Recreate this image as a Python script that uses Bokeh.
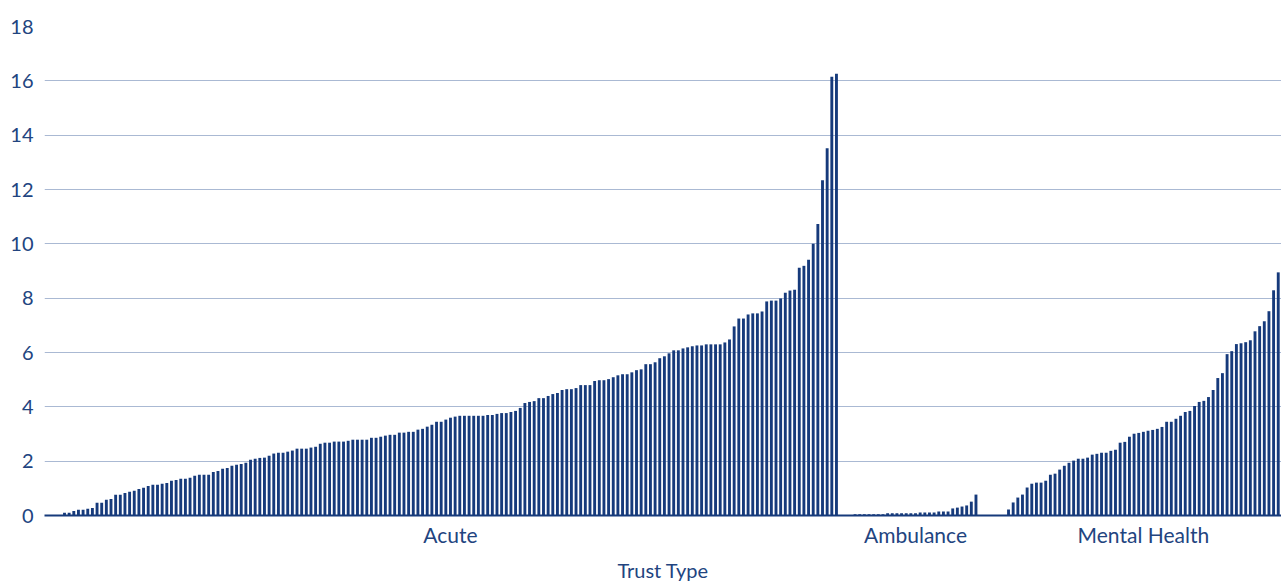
from bokeh.plotting import figure
from bokeh.models import Range1d, FixedTicker, ColumnDataSource
from bokeh.embed import file_html
from bokeh.resources import INLINE

# ---- data ----
categories = ["Acute", "Ambulance", "Mental Health"]

acute = [
    0.10, 0.10, 0.17, 0.21, 0.21, 0.25, 0.28, 0.47, 0.47, 0.58, 0.61, 0.76, 0.76, 0.83, 0.87,
    0.91, 0.98, 1.02, 1.09, 1.13, 1.13, 1.17, 1.20, 1.28, 1.31, 1.35, 1.35, 1.39, 1.46, 1.50,
    1.50, 1.50, 1.60, 1.64, 1.72, 1.75, 1.83, 1.87, 1.90, 1.94, 2.05, 2.09, 2.12,
    2.13, 2.20, 2.28, 2.31, 2.31, 2.35, 2.39, 2.46, 2.46, 2.46, 2.50, 2.53, 2.64, 2.68, 2.68,
    2.72, 2.72, 2.72, 2.75, 2.79, 2.79, 2.79, 2.79, 2.86, 2.86, 2.90, 2.94, 2.97, 2.97, 3.05,
    3.05, 3.08, 3.08, 3.16, 3.19, 3.27, 3.34, 3.45, 3.45, 3.53, 3.60, 3.64, 3.67,
    3.67, 3.67, 3.67, 3.67, 3.67, 3.70, 3.70, 3.74, 3.77, 3.77, 3.81, 3.85, 3.96, 4.14, 4.18,
    4.21, 4.32, 4.32, 4.40, 4.47, 4.51, 4.62, 4.65, 4.65, 4.69, 4.80, 4.80, 4.80, 4.95, 4.98,
    4.98, 5.02, 5.09, 5.16, 5.20, 5.20, 5.27, 5.35, 5.38, 5.57, 5.57, 5.64, 5.79,
    5.86, 5.97, 6.08, 6.08, 6.15, 6.19, 6.23, 6.26, 6.26, 6.30, 6.30, 6.30, 6.30, 6.37, 6.48,
    6.96, 7.25, 7.25, 7.40, 7.44, 7.44, 7.51, 7.88, 7.91, 7.91, 7.99, 8.20, 8.28, 8.31, 9.12,
    9.19, 9.41, 10.00, 10.73, 12.34, 13.52, 16.15, 16.26,
]

ambulance = [
    0.05, 0.05, 0.05, 0.05, 0.05, 0.05, 0.05,
    0.08, 0.08, 0.08, 0.08, 0.08, 0.08, 0.08,
    0.11, 0.11, 0.11, 0.11, 0.15, 0.15, 0.15,
    0.26, 0.29, 0.33, 0.37, 0.51, 0.77,
]

mental_health = [
    0.22, 0.48, 0.66, 0.77, 1.03, 1.17, 1.21, 1.21, 1.28, 1.50, 1.54, 1.69, 1.83, 1.94, 2.02,
    2.09, 2.09, 2.13, 2.24, 2.27, 2.31, 2.31, 2.38, 2.42, 2.68, 2.71, 2.90, 3.01, 3.04, 3.08,
    3.12, 3.15, 3.19, 3.26, 3.45, 3.45, 3.56, 3.67, 3.81, 3.85, 4.03, 4.18, 4.22, 4.36, 4.62,
    5.06, 5.24, 5.94, 6.05, 6.31, 6.34, 6.38, 6.45, 6.78, 6.97, 7.15, 7.52, 8.29, 8.95,
]

y_ticks = [0, 2, 4, 6, 8, 10, 12, 14, 16, 18]
x_title = "Trust Type"

# ---- layout constants ----
GROUP_GAPS = [0, 3, 6]          # empty slots before each group
BAR_COLOR = "#163a7b"
TEXT_COLOR = "#22447f"
GRID_COLOR = "#aab9d3"
FONT = "Lato"

xs, tops = [], []
centers = []
pos = 0
for gap, vals in zip(GROUP_GAPS, [acute, ambulance, mental_health]):
    pos += gap
    start = pos
    for v in vals:
        xs.append(pos)
        tops.append(v)
        pos += 1
    centers.append((start + pos - 1) / 2.0)

src = ColumnDataSource(dict(x=xs, top=tops))

p = figure(
    width=1281, height=584,
    x_range=Range1d(-4.3, pos - 1 + 0.7),
    y_range=Range1d(0, 18),
    output_backend="svg", toolbar_location=None,
    min_border_left=44, min_border_right=0, min_border_top=26, min_border_bottom=67,
)
p.outline_line_color = None
p.background_fill_color = "white"
p.border_fill_color = "white"

p.vbar(x="x", top="top", bottom=0, width=0.62, source=src,
       fill_color=BAR_COLOR, line_color=None)

# grid
p.xgrid.grid_line_color = None
p.ygrid.ticker = FixedTicker(ticks=y_ticks)
p.ygrid.grid_line_color = GRID_COLOR
p.ygrid.grid_line_width = 1

# y axis
ya = p.yaxis[0]
ya.ticker = FixedTicker(ticks=y_ticks)
ya.axis_line_color = None
ya.major_tick_line_color = None
ya.major_tick_out = 0
ya.minor_tick_line_color = None
ya.minor_tick_out = 0
ya.major_label_standoff = 11
ya.major_label_text_font = FONT
ya.major_label_text_font_size = "20px"
ya.major_label_text_color = TEXT_COLOR

# x axis
xa = p.xaxis[0]
xa.ticker = FixedTicker(ticks=centers)
xa.major_label_overrides = {c: name for c, name in zip(centers, categories)}
xa.axis_line_color = BAR_COLOR
xa.axis_line_width = 2
xa.major_tick_line_color = None
xa.major_tick_out = 0
xa.minor_tick_line_color = None
xa.minor_tick_out = 0
xa.major_label_standoff = 6
xa.major_label_text_font = FONT
xa.major_label_text_font_size = "21px"
xa.major_label_text_line_height = 0.9
xa.major_label_text_color = TEXT_COLOR
xa.axis_label = x_title
xa.axis_label_text_font = FONT
xa.axis_label_text_font_size = "20px"
xa.axis_label_text_line_height = 0.7
xa.axis_label_text_font_style = "normal"
xa.axis_label_text_color = TEXT_COLOR
xa.axis_label_standoff = 8

open("out.html", "w").write(file_html(p, INLINE))
